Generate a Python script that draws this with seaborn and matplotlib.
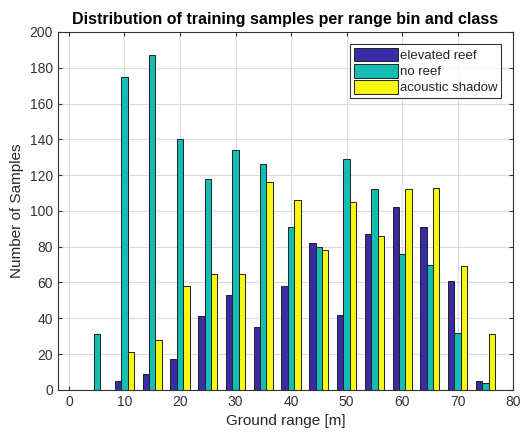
import matplotlib
matplotlib.use("Agg")
import matplotlib.pyplot as plt
import seaborn as sns
import pandas as pd

bins = [0, 5, 10, 15, 20, 25, 30, 35, 40, 45, 50, 55, 60, 65, 70, 75]
elevated_reef = [0, 0, 5, 9, 17, 41, 53, 35, 58, 82, 42, 87, 102, 91, 61, 5]
no_reef = [0, 31, 175, 187, 140, 118, 134, 126, 91, 80, 129, 112, 76, 70, 32, 4]
acoustic_shadow = [0, 0, 21, 28, 58, 65, 65, 116, 106, 78, 105, 86, 112, 113, 69, 31]
classes = ["elevated reef", "no reef", "acoustic shadow"]
colors = ["#3a2ca4", "#14bdb3", "#f7f711"]

rows = []
for name, vals in zip(classes, [elevated_reef, no_reef, acoustic_shadow]):
    for b, v in zip(bins, vals):
        rows.append({"range": b, "count": v, "cls": name})
df = pd.DataFrame(rows)

sns.set_style("white")
plt.rcParams["font.family"] = ["Liberation Sans", "DejaVu Sans"]

fig = plt.figure(figsize=(5.21, 4.38), dpi=100)
ax = fig.add_axes([0.111, 0.110, 0.874, 0.817])

sns.barplot(data=df, x="range", y="count", hue="cls", hue_order=classes,
            palette=colors, native_scale=True, width=0.69, dodge=True,
            edgecolor="#222222", linewidth=0.7, saturation=1, ax=ax, errorbar=None)

ax.set_xlim(-2, 80)
ax.set_ylim(0, 200)
ax.set_xticks(range(0, 81, 10))
ax.set_yticks(range(0, 201, 20))
ax.grid(True, color="#dcdcdc", linewidth=0.8)
ax.set_axisbelow(True)
for s in ax.spines.values():
    s.set_visible(True)
    s.set_color("#333333")
    s.set_linewidth(0.8)
ax.tick_params(direction="in", length=3, labelsize=10, colors="#333333",
               labelcolor="#333333", top=True, right=True, bottom=True, left=True)
ax.set_xlabel("Ground range [m]", fontsize=11, color="#262626")
ax.set_ylabel("Number of Samples", fontsize=11, color="#262626")
ax.set_title("Distribution of training samples per range bin and class",
             fontsize=11.5, fontweight="bold", color="black")

leg = ax.legend(loc="upper right", fontsize=9.5, frameon=True, fancybox=False,
                edgecolor="black", handlelength=3.3, handleheight=1.2,
                borderpad=0.3, labelspacing=0.15, handletextpad=0.15,
                borderaxespad=0.9, title=None)
leg.get_frame().set_linewidth(0.8)

fig.savefig("out.png", dpi=100)
